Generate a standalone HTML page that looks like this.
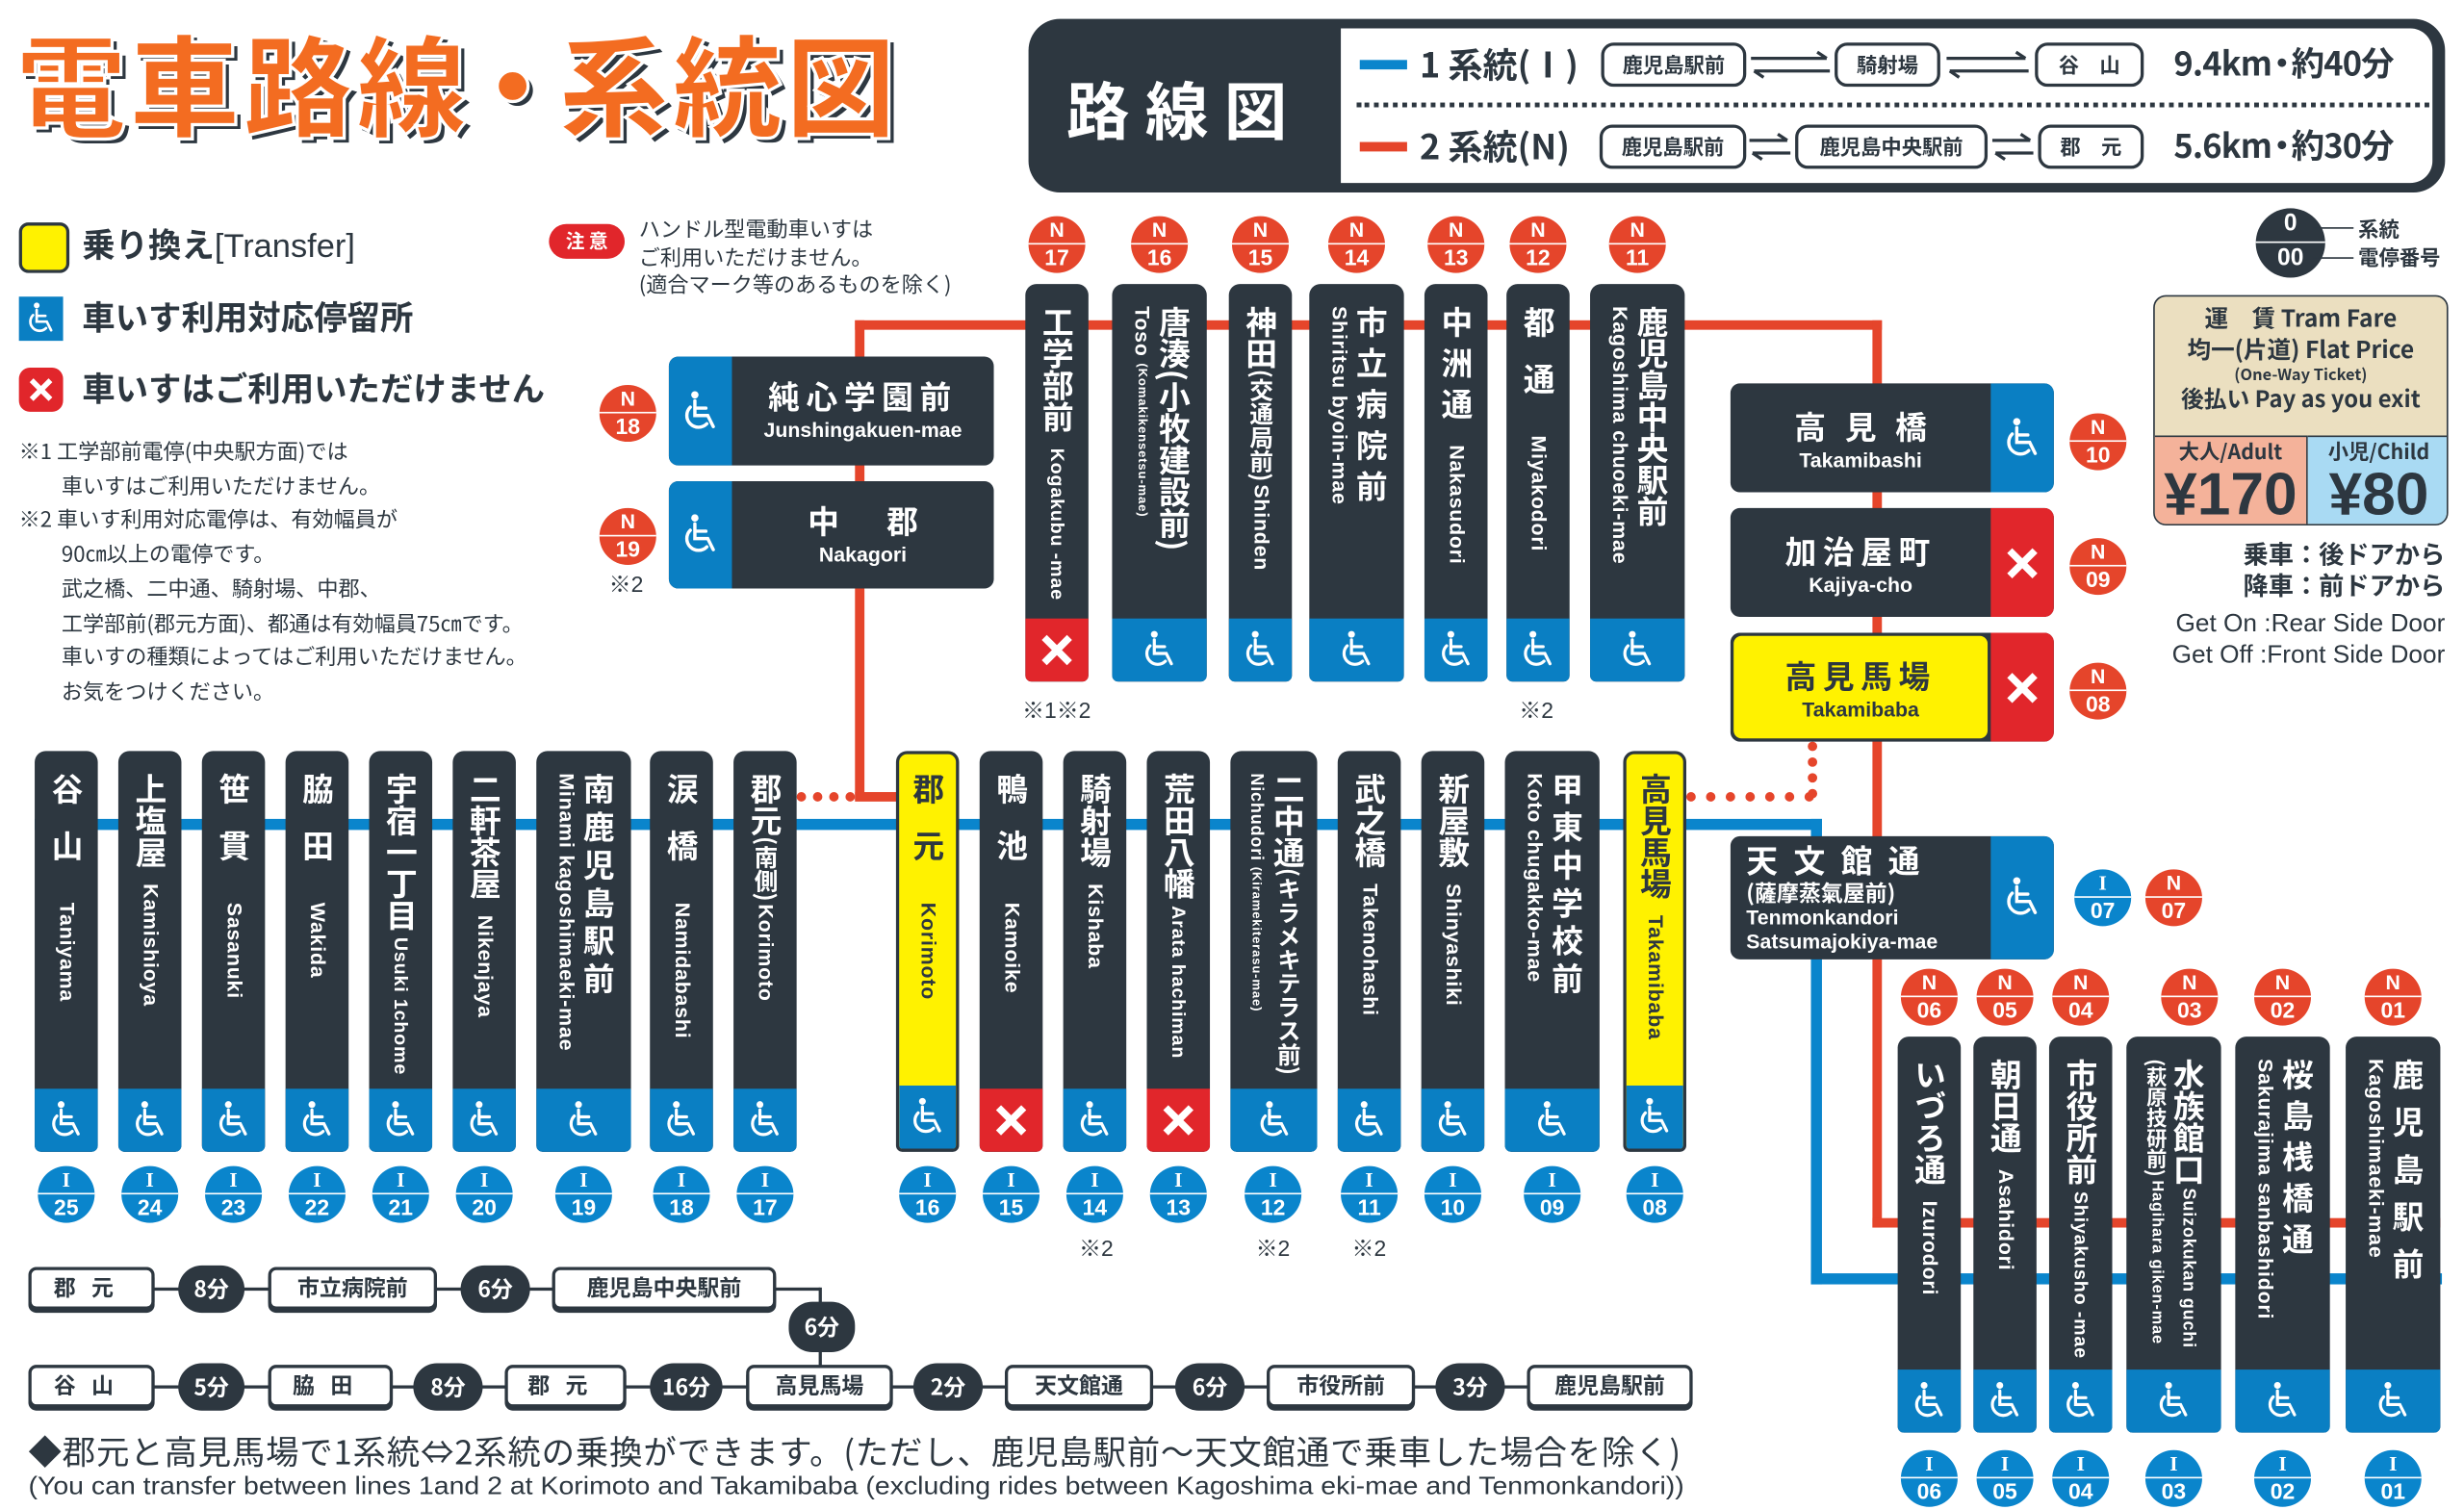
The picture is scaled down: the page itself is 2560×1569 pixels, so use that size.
<!DOCTYPE html>
<html><head><meta charset="utf-8">
<style>
body{margin:0;width:2560px;height:1569px;overflow:hidden;background:#fff;font-family:"Liberation Sans","Noto Sans CJK JP",sans-serif;}
#s{position:absolute;left:0;top:0;width:1562px;height:957px;transform-origin:0 0;transform:scale(1.63892,1.6395);color:#2d3740}
.a{position:absolute}
.col{position:absolute;background:#2d3740;border-radius:7px 7px 4px 4px;overflow:hidden}
.col.y{background:#fff200;border:2px solid #2d3740;box-sizing:border-box}
.col .t{position:absolute;left:50%;transform:translateX(-50%);top:14px;writing-mode:vertical-rl;color:#fff;white-space:nowrap;line-height:1.12}
.col.y .t{color:#2d3740}
.j{font-size:20px;font-family:"Noto Sans CJK JP",sans-serif;font-weight:bold}
.sp{letter-spacing:.8em}
.js{font-size:15px;font-family:"Noto Sans CJK JP",sans-serif;font-weight:bold}
.r{font-size:13px;font-family:"Liberation Sans",sans-serif;font-weight:bold;letter-spacing:.5px;margin-top:10px}
.rs{font-size:8px;font-family:"Liberation Sans",sans-serif}
.ic{position:absolute;left:0;right:0;bottom:0;height:40px;background:#0a7fc3;display:flex;align-items:center;justify-content:center}
.ic.x{background:#e1262b}
.bd{position:absolute;width:36px;height:36px;margin:-18px 0 0 -18px;border-radius:50%;color:#fff;font-weight:bold;text-align:center;font-size:14px;line-height:17px;font-family:"Liberation Sans",sans-serif}
.bd.n{background:#e5452b}.bd.i{background:#0a85cc}
.bd i{display:block;font-style:normal;border-bottom:1.5px solid #fff;height:17px;font-size:13px}
.bd.i i{font-family:"Liberation Serif",serif}
.ln{position:absolute}
.hb{position:absolute;border:2px solid #2d3740;border-radius:8px;height:24px;font-size:13px;text-align:center;line-height:24px;font-weight:bold;background:#fff;font-family:"Noto Sans CJK JP",sans-serif}
.tb{position:absolute;border:2.5px solid #2d3740;border-radius:5px;height:23px;font-size:14px;text-align:center;line-height:23px;font-weight:bold;background:#fff;font-family:"Noto Sans CJK JP",sans-serif;box-shadow:0 2px 0 #2d3740}
.tp{position:absolute;background:#2d3740;color:#fff;border-radius:15px;height:30px;font-size:14px;text-align:center;line-height:30px;font-weight:bold;font-family:"Noto Sans CJK JP",sans-serif}
.hx{position:absolute;background:#2d3740;border-radius:6px;color:#fff;overflow:hidden}
.hx .k{position:absolute;top:0;bottom:0;width:40px;display:flex;align-items:center;justify-content:center;background:#0a7fc3}
.hx .k.x{background:#e1262b}
.nt{font-size:13.5px;font-family:"Noto Sans CJK JP",sans-serif;line-height:21.7px}
</style></head><body>
<svg width="0" height="0" style="position:absolute">
<defs>
<symbol id="wc" viewBox="0 0 24 24"><circle cx="9" cy="2.8" r="2" fill="#fff"/><path d="M9 6v8h7l3 6M9 10h6M6.5 9.5A6.3 6.3 0 1 0 15.5 18.5" stroke="#fff" stroke-width="1.8" fill="none" stroke-linecap="round"/></symbol>
<symbol id="xx" viewBox="0 0 24 24"><path d="M4 4L20 20M20 4L4 20" stroke="#fff" stroke-width="4.5"/></symbol>
</defs></svg>
<div id="s">

<!-- title -->
<div class="a" style="left:10px;top:4px;font-size:70px;font-weight:900;font-family:'Noto Sans CJK JP',sans-serif;color:#f36c21;-webkit-text-stroke:2px #fff;text-shadow:3px 3px 0 #2d3740,-1px -1px 0 #fff;letter-spacing:2px;line-height:96px;white-space:nowrap">電車路線<span style="margin:0 -8px">・</span>系統図</div>

<!-- header -->
<div class="a" style="left:652px;top:12px;width:898px;height:110px;background:#2d3740;border-radius:20px"></div>
<div class="a" style="left:850px;top:18px;width:692px;height:98px;background:#fff;border-radius:0 14px 14px 0"></div>
<div class="a" style="left:652px;top:40px;width:198px;text-align:center;color:#fff;font-size:40px;font-weight:bold;letter-spacing:10px;font-family:'Noto Sans CJK JP',sans-serif;line-height:56px">路線図</div>
<div class="a" style="left:862px;top:38px;width:30px;height:6px;background:#0a85cc"></div>
<div class="a" style="left:900px;top:24px;font-size:22px;font-weight:bold;font-family:'Noto Sans CJK JP',sans-serif">1 系統(Ⅰ)</div>
<div class="hb" style="left:1015px;top:27px;width:88px">鹿児島駅前</div>
<svg class="a" style="left:1108px;top:31px" width="54" height="20"><path d="M2 6H50M44 2l6 4M52 14H4M10 18l-6-4" stroke="#2d3740" stroke-width="2" fill="none"/></svg>
<div class="hb" style="left:1163px;top:27px;width:63px">騎射場</div>
<svg class="a" style="left:1232px;top:31px" width="56" height="20"><path d="M2 6H52M46 2l6 4M54 14H4M10 18l-6-4" stroke="#2d3740" stroke-width="2" fill="none"/></svg>
<div class="hb" style="left:1290px;top:27px;width:65px">谷　山</div>
<div class="a" style="left:1378px;top:25px;font-size:21px;font-weight:bold;font-family:'Noto Sans CJK JP',sans-serif;letter-spacing:-0.5px;white-space:nowrap">9.4km<span style="margin:0 -4px">・</span>約40分</div>
<div class="a" style="left:860px;top:65px;width:680px;border-top:3px dotted #2d3740"></div>
<div class="a" style="left:862px;top:90px;width:30px;height:6px;background:#e5452b"></div>
<div class="a" style="left:900px;top:76px;font-size:22px;font-weight:bold;font-family:'Noto Sans CJK JP',sans-serif">2 系統(N)</div>
<div class="hb" style="left:1014px;top:79px;width:89px">鹿児島駅前</div>
<svg class="a" style="left:1107px;top:83px" width="30" height="20"><path d="M2 6H26M20 2l6 4M28 14H4M10 18l-6-4" stroke="#2d3740" stroke-width="2" fill="none"/></svg>
<div class="hb" style="left:1138px;top:79px;width:118px">鹿児島中央駅前</div>
<svg class="a" style="left:1261px;top:83px" width="30" height="20"><path d="M2 6H26M20 2l6 4M28 14H4M10 18l-6-4" stroke="#2d3740" stroke-width="2" fill="none"/></svg>
<div class="hb" style="left:1292px;top:79px;width:63px">郡　元</div>
<div class="a" style="left:1378px;top:77px;font-size:21px;font-weight:bold;font-family:'Noto Sans CJK JP',sans-serif;letter-spacing:-0.5px;white-space:nowrap">5.6km<span style="margin:0 -4px">・</span>約30分</div>

<!-- legend -->
<div class="a" style="left:12px;top:141px;width:28px;height:28px;background:#fff200;border:2px solid #2d3740;border-radius:6px"></div>
<div class="a" style="left:52px;top:140px;font-size:21px;font-weight:bold;font-family:'Noto Sans CJK JP',sans-serif">乗り換え<span style="font-weight:normal;font-family:'Liberation Sans Narrow','Liberation Sans',sans-serif">[Transfer]</span></div>
<div class="a" style="left:12px;top:188px;width:28px;height:28px;background:#0a7fc3;display:flex;align-items:center;justify-content:center"><svg width="22" height="22"><use href="#wc"/></svg></div>
<div class="a" style="left:52px;top:186px;font-size:21px;font-weight:bold;font-family:'Noto Sans CJK JP',sans-serif">車いす利用対応停留所</div>
<div class="a" style="left:12px;top:233px;width:28px;height:28px;background:#e1262b;border-radius:7px;display:flex;align-items:center;justify-content:center"><svg width="18" height="18"><use href="#xx"/></svg></div>
<div class="a" style="left:52px;top:231px;font-size:21px;font-weight:bold;font-family:'Noto Sans CJK JP',sans-serif">車いすはご利用いただけません</div>
<div class="a nt" style="left:12px;top:275px">※1 工学部前電停(中央駅方面)では<br>　　車いすはご利用いただけません。<br>※2 車いす利用対応電停は、有効幅員が<br>　　90㎝以上の電停です。<br>　　武之橋、二中通、騎射場、中郡、<br>　　工学部前(郡元方面)、都通は有効幅員75㎝です。<br>　　車いすの種類によってはご利用いただけません。<br>　　お気をつけください。</div>
<div class="a" style="left:348px;top:142px;width:48px;height:22px;background:#e1262b;border-radius:11px;color:#fff;font-size:12px;text-align:center;line-height:22px;font-family:'Noto Sans CJK JP',sans-serif;font-weight:bold">注 意</div>
<div class="a" style="left:405px;top:136px;font-size:13.5px;line-height:17.5px;font-family:'Noto Sans CJK JP',sans-serif">ハンドル型電動車いすは<br>ご利用いただけません。<br>(適合マーク等のあるものを除く)</div>

<!-- top right legend -->
<div class="a" style="left:1430px;top:132px;width:44px;height:44px;border-radius:50%;background:#2d3740;color:#fff;text-align:center;font-weight:bold;font-size:15px;line-height:20px"><div style="border-bottom:1.5px solid #fff;height:21px">0</div>00</div>
<div class="a" style="left:1466px;top:144px;width:26px;border-top:1.5px solid #2d3740"></div>
<div class="a" style="left:1466px;top:163px;width:26px;border-top:1.5px solid #2d3740"></div>
<div class="a" style="left:1495px;top:136px;font-size:13px;line-height:18px;font-family:'Noto Sans CJK JP',sans-serif;font-weight:bold">系統<br>電停番号</div>

<!-- fare -->
<div class="a" style="left:1365px;top:187px;width:185px;height:144px;background:#ebdfc0;border:1.5px solid #2d3740;border-radius:8px;overflow:hidden;text-align:center;font-weight:bold;font-family:'Noto Sans CJK JP',sans-serif">
<div style="font-size:15px;margin-top:4px;line-height:20px">運　賃 Tram Fare</div>
<div style="font-size:15px;line-height:19px">均一(片道) Flat Price</div>
<div style="font-size:10px;line-height:11px">(One-Way Ticket)</div>
<div style="font-size:14.5px;line-height:22px">後払い Pay as you exit</div>
<div class="a" style="left:0;top:88px;width:96px;height:58px;background:#f4b29a;border-top:1.5px solid #2d3740;border-right:1.5px solid #2d3740"><div style="font-size:13px;line-height:18px">大人/Adult</div><div style="font-size:38px;line-height:38px;font-family:'Liberation Sans',sans-serif">¥170</div></div>
<div class="a" style="left:97px;top:88px;width:90px;height:58px;background:#a9daf3;border-top:1.5px solid #2d3740"><div style="font-size:13px;line-height:18px">小児/Child</div><div style="font-size:38px;line-height:38px;font-family:'Liberation Sans',sans-serif">¥80</div></div>
</div>
<div class="a" style="left:1350px;top:340px;width:200px;text-align:right;font-size:16px;line-height:20px;font-family:'Noto Sans CJK JP',sans-serif;font-weight:bold">乗車：後ドアから<br>降車：前ドアから</div>
<div class="a" style="left:1340px;top:386px;width:210px;text-align:right;font-size:16px;line-height:20px">Get On :Rear Side Door<br>Get Off :Front Side Door</div>

<!-- lines -->
<div class="ln" style="left:542px;top:203px;width:651px;height:6px;background:#e5452b"></div>
<div class="ln" style="left:542px;top:203px;width:6px;height:304px;background:#e5452b"></div>
<div class="ln" style="left:542px;top:502px;width:28px;height:6px;background:#e5452b"></div>
<div class="ln" style="left:505px;top:502px;width:37px;height:0;border-top:6px dotted #e5452b"></div>
<div class="ln" style="left:1187px;top:203px;width:6px;height:575px;background:#e5452b"></div>
<div class="ln" style="left:1187px;top:772px;width:360px;height:6px;background:#e5452b"></div>
<div class="ln" style="left:1069px;top:502px;width:81px;height:0;border-top:6px dotted #e5452b"></div>
<div class="ln" style="left:1146px;top:470px;width:0;height:36px;border-left:6px dotted #e5452b"></div>
<div class="ln" style="left:22px;top:519px;width:1133px;height:7px;background:#0a85cc"></div>
<div class="ln" style="left:1148px;top:519px;width:7px;height:295px;background:#0a85cc"></div>
<div class="ln" style="left:1148px;top:807px;width:400px;height:7px;background:#0a85cc"></div>

<!-- left horizontal stations -->
<div class="hx" style="left:424px;top:226px;width:206px;height:69px"><div class="k" style="left:0"><svg width="28" height="28"><use href="#wc"/></svg></div><div class="a" style="left:40px;right:0;top:10px;text-align:center"><div class="j" style="letter-spacing:4px">純心学園前</div><div style="font-size:13px;font-weight:bold">Junshingakuen-mae</div></div></div>
<div class="hx" style="left:424px;top:305px;width:206px;height:68px"><div class="k" style="left:0"><svg width="28" height="28"><use href="#wc"/></svg></div><div class="a" style="left:40px;right:0;top:10px;text-align:center"><div class="j" style="letter-spacing:30px;margin-left:30px">中郡</div><div style="font-size:13px;font-weight:bold">Nakagori</div></div></div>
<div class="bd n" style="left:398px;top:262px"><i>N</i>18</div>
<div class="bd n" style="left:398px;top:340px"><i>N</i>19</div>
<div class="a" style="left:386px;top:360px;font-size:14px">※2</div>

<!-- right horizontal stations -->
<div class="hx" style="left:1097px;top:243px;width:205px;height:69px"><div class="k" style="right:0"><svg width="28" height="28"><use href="#wc"/></svg></div><div class="a" style="left:0;width:165px;top:12px;text-align:center"><div class="j" style="letter-spacing:12px;margin-left:12px">高見橋</div><div style="font-size:13px;font-weight:bold">Takamibashi</div></div></div>
<div class="hx" style="left:1097px;top:322px;width:205px;height:69px"><div class="k x" style="right:0"><svg width="24" height="24"><use href="#xx"/></svg></div><div class="a" style="left:0;width:165px;top:12px;text-align:center"><div class="j" style="letter-spacing:4px">加治屋町</div><div style="font-size:13px;font-weight:bold">Kajiya-cho</div></div></div>
<div class="hx" style="left:1097px;top:401px;width:205px;height:69px;background:#2d3740"><div class="a" style="left:2px;top:2px;width:161px;bottom:2px;background:#fff200;border-radius:5px"></div><div class="k x" style="right:0"><svg width="24" height="24"><use href="#xx"/></svg></div><div class="a" style="left:0;width:165px;top:12px;text-align:center;color:#2d3740"><div class="j" style="letter-spacing:4px">高見馬場</div><div style="font-size:13px;font-weight:bold">Takamibaba</div></div></div>
<div class="bd n" style="left:1330px;top:280px"><i>N</i>10</div>
<div class="bd n" style="left:1330px;top:359px"><i>N</i>09</div>
<div class="bd n" style="left:1330px;top:438px"><i>N</i>08</div>
<div class="hx" style="left:1097px;top:530px;width:205px;height:78px"><div class="k" style="right:0"><svg width="28" height="28"><use href="#wc"/></svg></div><div class="a" style="left:10px;top:2px;line-height:16px"><div class="j" style="letter-spacing:10px;line-height:26px">天文館通</div><div class="js" style="font-size:14px">(薩摩蒸氣屋前)</div><div style="font-size:13px;font-weight:bold;line-height:15px">Tenmonkandori<br>Satsumajokiya-mae</div></div></div>
<div class="bd i" style="left:1333px;top:569px"><i>I</i>07</div>
<div class="bd n" style="left:1378px;top:569px"><i>N</i>07</div>

<!-- top row stations -->
<div class="col" style="left:650px;top:180px;width:40px;height:252px"><div class="t"><span class="j">工学部前</span><span class="r" style="font-size:12px">Kogakubu -mae</span></div><div class="ic x"><svg width="24" height="24"><use href="#xx"/></svg></div></div>
<div class="col" style="left:705px;top:180px;width:60px;height:252px"><div class="t"><span class="j">唐湊(小牧建設前)</span><br><span class="r" style="margin-top:0">Toso <span class="rs">(Komakikensetsu-mae)</span></span></div><div class="ic"><svg width="26" height="26"><use href="#wc"/></svg></div></div>
<div class="col" style="left:779px;top:180px;width:40px;height:252px"><div class="t"><span class="j">神田</span><span class="js">(交通局前)</span><span class="r" style="margin-top:2px">Shinden</span></div><div class="ic"><svg width="26" height="26"><use href="#wc"/></svg></div></div>
<div class="col" style="left:830px;top:180px;width:60px;height:252px"><div class="t"><span class="j" style="letter-spacing:.3em">市立病院前</span><br><span class="r" style="margin-top:0">Shiritsu byoin-mae</span></div><div class="ic"><svg width="26" height="26"><use href="#wc"/></svg></div></div>
<div class="col" style="left:903px;top:180px;width:40px;height:252px"><div class="t"><span class="j" style="letter-spacing:.3em">中洲通</span><span class="r">Nakasudori</span></div><div class="ic"><svg width="26" height="26"><use href="#wc"/></svg></div></div>
<div class="col" style="left:955px;top:180px;width:40px;height:252px"><div class="t"><span class="j sp">都通</span><span class="r">Miyakodori</span></div><div class="ic"><svg width="26" height="26"><use href="#wc"/></svg></div></div>
<div class="col" style="left:1008px;top:180px;width:60px;height:252px"><div class="t"><span class="j">鹿児島中央駅前</span><br><span class="r" style="margin-top:0">Kagoshima chuoeki-mae</span></div><div class="ic"><svg width="26" height="26"><use href="#wc"/></svg></div></div>
<div class="bd n" style="left:670px;top:155px"><i>N</i>17</div>
<div class="bd n" style="left:735px;top:155px"><i>N</i>16</div>
<div class="bd n" style="left:799px;top:155px"><i>N</i>15</div>
<div class="bd n" style="left:860px;top:155px"><i>N</i>14</div>
<div class="bd n" style="left:923px;top:155px"><i>N</i>13</div>
<div class="bd n" style="left:975px;top:155px"><i>N</i>12</div>
<div class="bd n" style="left:1038px;top:155px"><i>N</i>11</div>
<div class="a" style="left:648px;top:440px;font-size:14px">※1※2</div>
<div class="a" style="left:963px;top:440px;font-size:14px">※2</div>

<!-- bottom row stations -->
<div class="col" style="left:22px;top:476px;width:40px;height:254px"><div class="t"><span class="j sp">谷山</span><span class="r">Taniyama</span></div><div class="ic"><svg width="26" height="26"><use href="#wc"/></svg></div></div>
<div class="col" style="left:75px;top:476px;width:40px;height:254px"><div class="t"><span class="j">上塩屋</span><span class="r">Kamishioya</span></div><div class="ic"><svg width="26" height="26"><use href="#wc"/></svg></div></div>
<div class="col" style="left:128px;top:476px;width:40px;height:254px"><div class="t"><span class="j sp">笹貫</span><span class="r">Sasanuki</span></div><div class="ic"><svg width="26" height="26"><use href="#wc"/></svg></div></div>
<div class="col" style="left:181px;top:476px;width:40px;height:254px"><div class="t"><span class="j sp">脇田</span><span class="r">Wakida</span></div><div class="ic"><svg width="26" height="26"><use href="#wc"/></svg></div></div>
<div class="col" style="left:234px;top:476px;width:40px;height:254px"><div class="t"><span class="j">宇宿一丁目</span><span class="r" style="font-size:12px;margin-top:4px">Usuki 1chome</span></div><div class="ic"><svg width="26" height="26"><use href="#wc"/></svg></div></div>
<div class="col" style="left:287px;top:476px;width:40px;height:254px"><div class="t"><span class="j">二軒茶屋</span><span class="r">Nikenjaya</span></div><div class="ic"><svg width="26" height="26"><use href="#wc"/></svg></div></div>
<div class="col" style="left:340px;top:476px;width:60px;height:254px"><div class="t"><span class="j" style="letter-spacing:.2em">南鹿児島駅前</span><br><span class="r" style="margin-top:0">Minami kagoshimaeki-mae</span></div><div class="ic"><svg width="26" height="26"><use href="#wc"/></svg></div></div>
<div class="col" style="left:412px;top:476px;width:40px;height:254px"><div class="t"><span class="j sp">涙橋</span><span class="r">Namidabashi</span></div><div class="ic"><svg width="26" height="26"><use href="#wc"/></svg></div></div>
<div class="col" style="left:465px;top:476px;width:40px;height:254px"><div class="t"><span class="j">郡元</span><span class="js">(南側)</span><span class="r" style="margin-top:2px">Korimoto</span></div><div class="ic"><svg width="26" height="26"><use href="#wc"/></svg></div></div>
<div class="col y" style="left:568px;top:476px;width:40px;height:254px"><div class="t" style="top:12px"><span class="j sp">郡元</span><span class="r">Korimoto</span></div><div class="ic"><svg width="26" height="26"><use href="#wc"/></svg></div></div>
<div class="col" style="left:621px;top:476px;width:40px;height:254px"><div class="t"><span class="j sp">鴨池</span><span class="r">Kamoike</span></div><div class="ic x"><svg width="24" height="24"><use href="#xx"/></svg></div></div>
<div class="col" style="left:674px;top:476px;width:40px;height:254px"><div class="t"><span class="j">騎射場</span><span class="r">Kishaba</span></div><div class="ic"><svg width="26" height="26"><use href="#wc"/></svg></div></div>
<div class="col" style="left:727px;top:476px;width:40px;height:254px"><div class="t"><span class="j">荒田八幡</span><span class="r" style="font-size:12px;margin-top:4px">Arata hachiman</span></div><div class="ic x"><svg width="24" height="24"><use href="#xx"/></svg></div></div>
<div class="col" style="left:780px;top:476px;width:55px;height:254px"><div class="t"><span class="j">二中通</span><span class="js">(キラメキテラス前)</span><br><span class="r" style="margin-top:0;font-size:11px">Nichudori <span class="rs">(Kiramekiterasu-mae)</span></span></div><div class="ic"><svg width="26" height="26"><use href="#wc"/></svg></div></div>
<div class="col" style="left:848px;top:476px;width:40px;height:254px"><div class="t"><span class="j">武之橋</span><span class="r">Takenohashi</span></div><div class="ic"><svg width="26" height="26"><use href="#wc"/></svg></div></div>
<div class="col" style="left:901px;top:476px;width:40px;height:254px"><div class="t"><span class="j">新屋敷</span><span class="r">Shinyashiki</span></div><div class="ic"><svg width="26" height="26"><use href="#wc"/></svg></div></div>
<div class="col" style="left:954px;top:476px;width:60px;height:254px"><div class="t"><span class="j" style="letter-spacing:.2em">甲東中学校前</span><br><span class="r" style="margin-top:0">Koto chugakko-mae</span></div><div class="ic"><svg width="26" height="26"><use href="#wc"/></svg></div></div>
<div class="col y" style="left:1029px;top:476px;width:40px;height:254px"><div class="t" style="top:12px"><span class="j">高見馬場</span><span class="r">Takamibaba</span></div><div class="ic"><svg width="26" height="26"><use href="#wc"/></svg></div></div>

<div class="bd i" style="left:42px;top:757px"><i>I</i>25</div>
<div class="bd i" style="left:95px;top:757px"><i>I</i>24</div>
<div class="bd i" style="left:148px;top:757px"><i>I</i>23</div>
<div class="bd i" style="left:201px;top:757px"><i>I</i>22</div>
<div class="bd i" style="left:254px;top:757px"><i>I</i>21</div>
<div class="bd i" style="left:307px;top:757px"><i>I</i>20</div>
<div class="bd i" style="left:370px;top:757px"><i>I</i>19</div>
<div class="bd i" style="left:432px;top:757px"><i>I</i>18</div>
<div class="bd i" style="left:485px;top:757px"><i>I</i>17</div>
<div class="bd i" style="left:588px;top:757px"><i>I</i>16</div>
<div class="bd i" style="left:641px;top:757px"><i>I</i>15</div>
<div class="bd i" style="left:694px;top:757px"><i>I</i>14</div>
<div class="bd i" style="left:747px;top:757px"><i>I</i>13</div>
<div class="bd i" style="left:807px;top:757px"><i>I</i>12</div>
<div class="bd i" style="left:868px;top:757px"><i>I</i>11</div>
<div class="bd i" style="left:921px;top:757px"><i>I</i>10</div>
<div class="bd i" style="left:984px;top:757px"><i>I</i>09</div>
<div class="bd i" style="left:1049px;top:757px"><i>I</i>08</div>
<div class="a" style="left:684px;top:781px;font-size:14px">※2</div>
<div class="a" style="left:796px;top:781px;font-size:14px">※2</div>
<div class="a" style="left:857px;top:781px;font-size:14px">※2</div>

<!-- bottom right stations -->
<div class="col" style="left:1203px;top:657px;width:40px;height:251px"><div class="t"><span class="j">いづろ通</span><span class="r">Izurodori</span></div><div class="ic"><svg width="26" height="26"><use href="#wc"/></svg></div></div>
<div class="col" style="left:1251px;top:657px;width:40px;height:251px"><div class="t"><span class="j">朝日通</span><span class="r">Asahidori</span></div><div class="ic"><svg width="26" height="26"><use href="#wc"/></svg></div></div>
<div class="col" style="left:1299px;top:657px;width:40px;height:251px"><div class="t"><span class="j">市役所前</span><span class="r" style="font-size:12px;margin-top:4px">Shiyakusho -mae</span></div><div class="ic"><svg width="26" height="26"><use href="#wc"/></svg></div></div>
<div class="col" style="left:1348px;top:657px;width:60px;height:251px"><div class="t"><span class="j">水族館口</span><span class="r" style="font-size:11px;margin-top:2px">Suizokukan guchi</span><br><span class="js" style="font-size:13px">(萩原技研前)</span><span class="r" style="font-size:10px;margin-top:2px">Hagihara giken-mae</span></div><div class="ic"><svg width="26" height="26"><use href="#wc"/></svg></div></div>
<div class="col" style="left:1417px;top:657px;width:60px;height:251px"><div class="t"><span class="j" style="letter-spacing:.3em">桜島桟橋通</span><br><span class="r" style="margin-top:0">Sakurajima sanbashidori</span></div><div class="ic"><svg width="26" height="26"><use href="#wc"/></svg></div></div>
<div class="col" style="left:1487px;top:657px;width:60px;height:251px"><div class="t"><span class="j" style="letter-spacing:.5em">鹿児島駅前</span><br><span class="r" style="margin-top:0">Kagoshimaeki-mae</span></div><div class="ic"><svg width="26" height="26"><use href="#wc"/></svg></div></div>
<div class="bd n" style="left:1223px;top:632px"><i>N</i>06</div>
<div class="bd n" style="left:1271px;top:632px"><i>N</i>05</div>
<div class="bd n" style="left:1319px;top:632px"><i>N</i>04</div>
<div class="bd n" style="left:1388px;top:632px"><i>N</i>03</div>
<div class="bd n" style="left:1447px;top:632px"><i>N</i>02</div>
<div class="bd n" style="left:1517px;top:632px"><i>N</i>01</div>
<div class="bd i" style="left:1223px;top:937px"><i>I</i>06</div>
<div class="bd i" style="left:1271px;top:937px"><i>I</i>05</div>
<div class="bd i" style="left:1319px;top:937px"><i>I</i>04</div>
<div class="bd i" style="left:1378px;top:937px"><i>I</i>03</div>
<div class="bd i" style="left:1447px;top:937px"><i>I</i>02</div>
<div class="bd i" style="left:1517px;top:937px"><i>I</i>01</div>

<!-- travel time rows -->
<div class="a" style="left:20px;top:816px;width:500px;height:2px;background:#2d3740"></div>
<div class="a" style="left:519px;top:816px;width:2px;height:62px;background:#2d3740"></div>
<div class="a" style="left:20px;top:878px;width:1050px;height:2px;background:#2d3740"></div>
<div class="tb" style="left:18px;top:803px;width:76px;letter-spacing:10px">郡元</div>
<div class="tp" style="left:113px;top:802px;width:42px">8分</div>
<div class="tb" style="left:170px;top:803px;width:103px">市立病院前</div>
<div class="tp" style="left:292px;top:802px;width:44px">6分</div>
<div class="tb" style="left:350px;top:803px;width:138px">鹿児島中央駅前</div>
<div class="tp" style="left:500px;top:825px;width:42px;height:32px;line-height:32px">6分</div>
<div class="tb" style="left:18px;top:865px;width:76px;letter-spacing:10px">谷山</div>
<div class="tp" style="left:113px;top:864px;width:42px">5分</div>
<div class="tb" style="left:170px;top:865px;width:75px;letter-spacing:10px">脇田</div>
<div class="tp" style="left:262px;top:864px;width:44px">8分</div>
<div class="tb" style="left:320px;top:865px;width:73px;letter-spacing:10px">郡元</div>
<div class="tp" style="left:412px;top:864px;width:46px">16分</div>
<div class="tb" style="left:473px;top:865px;width:89px">高見馬場</div>
<div class="tp" style="left:579px;top:864px;width:44px">2分</div>
<div class="tb" style="left:637px;top:865px;width:90px">天文館通</div>
<div class="tp" style="left:745px;top:864px;width:44px">6分</div>
<div class="tb" style="left:803px;top:865px;width:90px">市役所前</div>
<div class="tp" style="left:910px;top:864px;width:44px">3分</div>
<div class="tb" style="left:968px;top:865px;width:101px">鹿児島駅前</div>

<!-- bottom text -->
<div class="a" style="left:18px;top:905px;font-size:21px;font-family:'Noto Sans CJK JP',sans-serif;white-space:nowrap;letter-spacing:0.5px;transform-origin:0 0;transform:scaleX(1.0)">◆郡元と高見馬場で1系統⇔2系統の乗換ができます。(ただし、鹿児島駅前〜天文館通で乗車した場合を除く)</div>
<div class="a" style="left:18px;top:934px;font-size:16px;font-family:'Liberation Sans',sans-serif;white-space:nowrap;transform-origin:0 0;transform:scaleX(1.085)">(You can transfer between lines 1and 2 at Korimoto and Takamibaba (excluding rides between Kagoshima eki-mae and Tenmonkandori))</div>

</div>
</body></html>
